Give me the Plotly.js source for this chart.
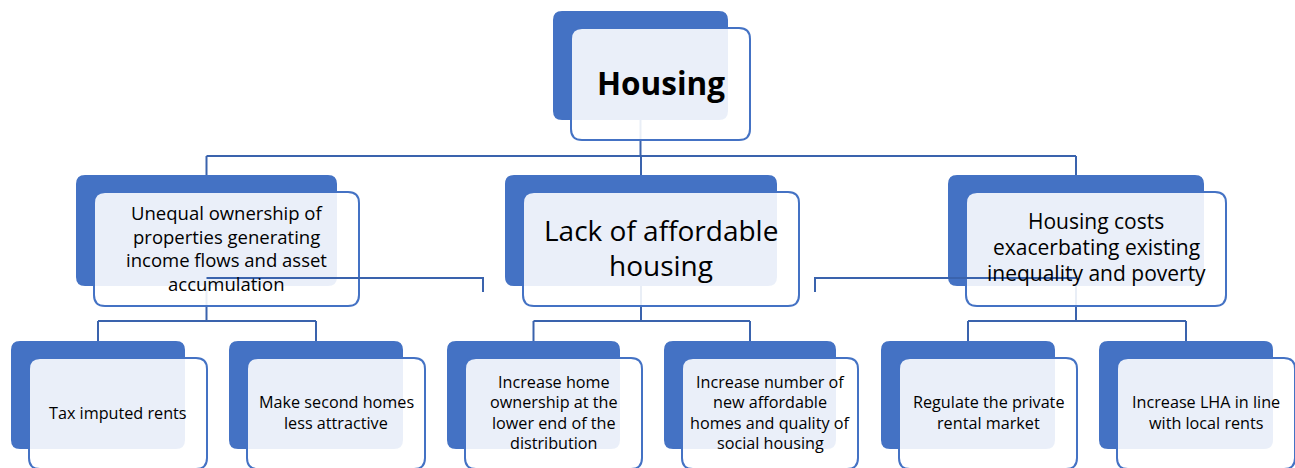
<!DOCTYPE html>
<html><head><meta charset="utf-8">
<script src="https://cdn.plot.ly/plotly-3.0.1.min.js"></script>
<style>html,body{margin:0;padding:0;background:#fff;overflow:hidden}#chart{width:1295px;height:468px;}</style>
</head><body><div id="chart"></div>
<script>
// ---- content ----
const rootLabel = ["Housing"];
const themeLabels = [
  ["Unequal ownership of", "properties generating", "income flows and asset", "accumulation"],
  ["Lack of affordable", "housing"],
  ["Housing costs", "exacerbating existing", "inequality and poverty"]
];
const policyLabels = [
  ["Tax imputed rents"],
  ["Make second homes", "less attractive"],
  ["Increase home", "ownership at the", "lower end of the", "distribution"],
  ["Increase number of", "new affordable", "homes and quality of", "social housing"],
  ["Regulate the private", "rental market"],
  ["Increase LHA in line", "with local rents"]
];
const policyParent = [0, 0, 1, 1, 2, 2];

// ---- layout geometry (front boxes, pixel-like axis units) ----
const W = 1295, H = 468;
const rootBox = [571, 28, 750, 140];
const themeBoxes = [[94, 192, 359, 306], [523, 192, 799, 306], [966, 192, 1226, 306]];
const policyBoxes = [[29, 358, 207, 469], [247, 358, 425, 469], [465, 358, 642, 469],
                     [682, 358, 858, 469], [899, 358, 1077, 469], [1117, 358, 1295, 469]];
const rootFont = {size: 31.5, lh: 36, bold: true, dy: -2};
const themeFonts = [{size: 18.5, lh: 23.5, dy: -1}, {size: 28, lh: 35, dy: -1.5}, {size: 21, lh: 26, dy: -2}];
const policyFont = {size: 16.2, lh: 20.2, dy: -1};

const BLUE = '#4472C4', LINE = '#3A63AD';
const FONT = '"Open Sans", Lato, sans-serif';

function back(b) { return [b[0] - 18, b[1] - 17, b[2] - 22, b[3] - 20]; }
function rr(b, r) {
  const [x0, y0, x1, y1] = b;
  return `M${x0 + r},${y0} L${x1 - r},${y0} Q${x1},${y0} ${x1},${y0 + r} L${x1},${y1 - r} Q${x1},${y1} ${x1 - r},${y1} L${x0 + r},${y1} Q${x0},${y1} ${x0},${y1 - r} L${x0},${y0 + r} Q${x0},${y0} ${x0 + r},${y0} Z`;
}
function cx(b) { return (b[0] + b[2]) / 2; }

const shapes = [];
const annotations = [];
function seg(pts) {
  shapes.push({type: 'path', xref: 'x', yref: 'y',
    path: 'M' + pts.map(p => p[0] + ',' + p[1]).join(' L'),
    line: {color: LINE, width: 2}});
}

// connectors
const rootB = back(rootBox);
const themeBack = themeBoxes.map(back);
const policyBack = policyBoxes.map(back);
const yMain = 156, yChild = 321;
seg([[cx(rootB), rootB[3]], [cx(rootB), yMain]]);
seg([[cx(themeBack[0]), yMain], [cx(themeBack[2]), yMain]]);
themeBack.forEach((b, i) => {
  seg([[cx(b), yMain], [cx(b), b[1]]]);
  seg([[cx(b), b[3]], [cx(b), yChild]]);
  const kids = policyParent.map((p, k) => p === i ? k : -1).filter(k => k >= 0);
  const xs = kids.map(k => cx(policyBack[k]));
  seg([[Math.min(...xs), yChild], [Math.max(...xs), yChild]]);
  kids.forEach(k => seg([[cx(policyBack[k]), yChild], [cx(policyBack[k]), policyBack[k][1]]]));
});

// boxes
function box(b) {
  const bb = back(b);
  shapes.push({type: 'path', xref: 'x', yref: 'y', path: rr(bb, 9), fillcolor: BLUE, line: {width: 0}});
  shapes.push({type: 'path', xref: 'x', yref: 'y', path: rr(b, 11), fillcolor: 'rgba(255,255,255,0.89)', line: {color: BLUE, width: 2}});
}
box(rootBox);
themeBoxes.forEach(box);
policyBoxes.forEach(box);

// stray connector lines drawn over the boxes
seg([[cx(themeBack[0]), 278], [483, 278], [483, 292]]);
seg([[815, 292], [815, 278], [cx(themeBack[2]), 278]]);

// labels
function label(lines, b, f) {
  const c = (b[1] + b[3]) / 2 + (f.dy || 0);
  const n = lines.length;
  lines.forEach((t, i) => {
    annotations.push({xref: 'x', yref: 'y', x: cx(b), y: c + (i - (n - 1) / 2) * f.lh,
      text: f.bold ? '<b>' + t + '</b>' : t, showarrow: false, xanchor: 'center', yanchor: 'middle',
      font: {family: FONT, size: f.size, color: '#000'}});
  });
}
label(rootLabel, rootBox, rootFont);
themeLabels.forEach((l, i) => label(l, themeBoxes[i], themeFonts[i]));
policyLabels.forEach((l, i) => label(l, policyBoxes[i], policyFont));

Plotly.newPlot('chart', [], {
  width: W, height: H, margin: {l: 0, r: 0, t: 0, b: 0},
  paper_bgcolor: '#fff', plot_bgcolor: '#fff', showlegend: false,
  xaxis: {range: [0, W], visible: false, fixedrange: true},
  yaxis: {range: [H, 0], visible: false, fixedrange: true},
  shapes: shapes, annotations: annotations
}, {staticPlot: true});
</script></body></html>
